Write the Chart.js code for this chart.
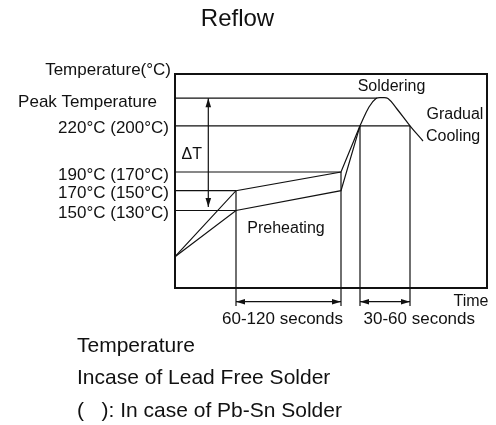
<!DOCTYPE html>
<html>
<head>
<meta charset="utf-8">
<script src="https://cdn.jsdelivr.net/npm/chart.js@4.4.1/dist/chart.umd.min.js"></script>
<style>
  html, body { margin: 0; padding: 0; background: #fff; }
  #wrap { width: 496px; height: 425px; }
</style>
</head>
<body>
<div id="wrap"><canvas id="c" width="496" height="425"></canvas></div>
<script>
// ---- Data (schematic units) ----
const levelNames = ['150°C (130°C)', '170°C (150°C)', '190°C (170°C)', '220°C (200°C)', 'Peak Temperature'];
const levelTemps = [77.5, 97.3, 116, 162.2, 189.8];
const levelEnds  = [61, 61, 166, 235, 202];          // time where each level line stops
const phaseTimes = [0, 61, 166, 185, 235];           // start, preheat start, preheat end, soldering start, soldering end
const leadFreeProfile = [31.3, 97.3, 116, 162.2];    // temps at phaseTimes[0..3]
const pbSnProfile     = [31.3, 77.5, 97.3, 162.2];
const peakTimes = [185, 194, 201, 207, 213, 222, 235, 248];
const peakTemps = [162.2, 181, 189.5, 190.4, 189.5, 179, 162.2, 147];
const spanLabels = ['60-120 seconds', '30-60 seconds'];
const noteLines = ['Temperature', 'Incase of Lead Free Solder', '(   ): In case of Pb-Sn Solder'];

const FONT = "'Liberation Sans', Arial, Helvetica, sans-serif";
const INK = '#111';
const below = -18;      // extension lines go below the time axis
const dimY = -13.7;     // dimension arrow level
const deltaX = 33.3;    // time position of the ΔT arrow
const deltaBottom = 81;

function line(points, extra) {
  return Object.assign({
    data: points,
    showLine: true,
    borderColor: INK,
    borderWidth: 1.2,
    pointRadius: 0,
    pointHoverRadius: 0,
    fill: false,
    clip: false,
    tension: 0
  }, extra || {});
}

const datasets = [];
datasets.push(line(phaseTimes.slice(0, 4).map((t, i) => ({ x: t, y: leadFreeProfile[i] }))));
datasets.push(line(phaseTimes.slice(0, 4).map((t, i) => ({ x: t, y: pbSnProfile[i] }))));
datasets.push(line(peakTimes.map((t, i) => ({ x: t, y: peakTemps[i] })), { tension: 0.4 }));
levelTemps.forEach((v, i) => datasets.push(line([{ x: 0, y: v }, { x: levelEnds[i], y: v }])));
// verticals at phase boundaries
datasets.push(line([{ x: phaseTimes[1], y: levelTemps[1] }, { x: phaseTimes[1], y: below }]));
datasets.push(line([{ x: phaseTimes[2], y: levelTemps[2] }, { x: phaseTimes[2], y: below }]));
datasets.push(line([{ x: phaseTimes[3], y: levelTemps[3] }, { x: phaseTimes[3], y: below }]));
datasets.push(line([{ x: phaseTimes[4], y: levelTemps[3] }, { x: phaseTimes[4], y: below }]));
// dimension lines
datasets.push(line([{ x: phaseTimes[1], y: dimY }, { x: phaseTimes[2], y: dimY }], { arrow: 'both' }));
datasets.push(line([{ x: phaseTimes[3], y: dimY }, { x: phaseTimes[4], y: dimY }], { arrow: 'both' }));
// ΔT arrow
datasets.push(line([{ x: deltaX, y: levelTemps[4] }, { x: deltaX, y: deltaBottom }], { arrow: 'both' }));

function arrowHead(ctx, x, y, fromX, fromY) {
  const ang = Math.atan2(y - fromY, x - fromX);
  const len = 9, half = 2.8;
  ctx.save();
  ctx.translate(x, y);
  ctx.rotate(ang);
  ctx.beginPath();
  ctx.moveTo(0, 0);
  ctx.lineTo(-len, -half);
  ctx.lineTo(-len, half);
  ctx.closePath();
  ctx.fillStyle = INK;
  ctx.fill();
  ctx.restore();
}

const decor = {
  id: 'decor',
  beforeDatasetsDraw(chart) {
    const { ctx, chartArea: a } = chart;
    ctx.save();
    ctx.strokeStyle = INK;
    ctx.lineWidth = 2;
    ctx.strokeRect(a.left, a.top, a.right - a.left, a.bottom - a.top);
    ctx.restore();
  },
  afterDatasetsDraw(chart) {
    const { ctx, chartArea: a } = chart;
    const xs = chart.scales.x, ys = chart.scales.y;
    const X = v => xs.getPixelForValue(v), Y = v => ys.getPixelForValue(v);
    // arrowheads
    chart.data.datasets.forEach(ds => {
      if (ds.arrow) {
        const p0 = ds.data[0], p1 = ds.data[ds.data.length - 1];
        arrowHead(ctx, X(p1.x), Y(p1.y), X(p0.x), Y(p0.y));
        arrowHead(ctx, X(p0.x), Y(p0.y), X(p1.x), Y(p1.y));
      }
    });
    ctx.save();
    ctx.fillStyle = INK;
    ctx.textBaseline = 'middle';
    // title
    ctx.font = '24px ' + FONT;
    ctx.textAlign = 'center';
    ctx.fillText('Reflow', 237.5, 19.5);
    // y-axis caption and level labels
    ctx.font = '17px ' + FONT;
    ctx.textAlign = 'right';
    ctx.fillText('Temperature(°C)', a.left - 4, a.top - 3.5);
    levelNames.forEach((n, i) => {
      const isPeak = i === levelNames.length - 1;
      ctx.fillText(n, a.left - (isPeak ? 18 : 6), Y(levelTemps[i]) + (isPeak ? 4.4 : 3));
    });
    // ΔT
    ctx.font = '16px ' + FONT;
    ctx.textAlign = 'left';
    ctx.fillText('\u0394T', a.left + 6.5, Y((levelTemps[2] + levelTemps[3]) / 2) + 6);
    // phase labels
    ctx.textAlign = 'center';
    ctx.fillText('Preheating', 286, Y(levelTemps[0]) + 18.5);
    ctx.fillText('Soldering', 391.5, a.top + 13);
    ctx.textAlign = 'left';
    ctx.fillText('Gradual', 426.5, Y(levelTemps[3]) - 11);
    ctx.fillText('Cooling', 426, Y(levelTemps[3]) + 11);
    // time axis
    ctx.textAlign = 'right';
    ctx.fillText('Time', a.right + 1.5, Y(dimY) - 0.5);
    ctx.font = '17px ' + FONT;
    ctx.fillText(spanLabels[0], X(phaseTimes[2]) + 2, Y(dimY) + 17.5);
    ctx.textAlign = 'left';
    ctx.fillText(spanLabels[1], X(phaseTimes[3]) + 3.5, Y(dimY) + 17.5);
    // notes
    ctx.font = '21px ' + FONT;
    ctx.fillText(noteLines[0], 77, 346.5);
    ctx.fillText(noteLines[1], 77, 378);
    ctx.fillText(noteLines[2], 77, 411);
    ctx.restore();
  }
};

new Chart(document.getElementById('c'), {
  type: 'scatter',
  data: { datasets },
  options: {
    responsive: false,
    animation: false,
    events: [],
    layout: { padding: { left: 175, top: 74, right: 9, bottom: 137 } },
    plugins: { legend: { display: false }, tooltip: { enabled: false }, title: { display: false } },
    scales: {
      x: { type: 'linear', min: 0, max: 312, display: false },
      y: { type: 'linear', min: 0, max: 214, display: false }
    }
  },
  plugins: [decor]
});
</script>
</body>
</html>
